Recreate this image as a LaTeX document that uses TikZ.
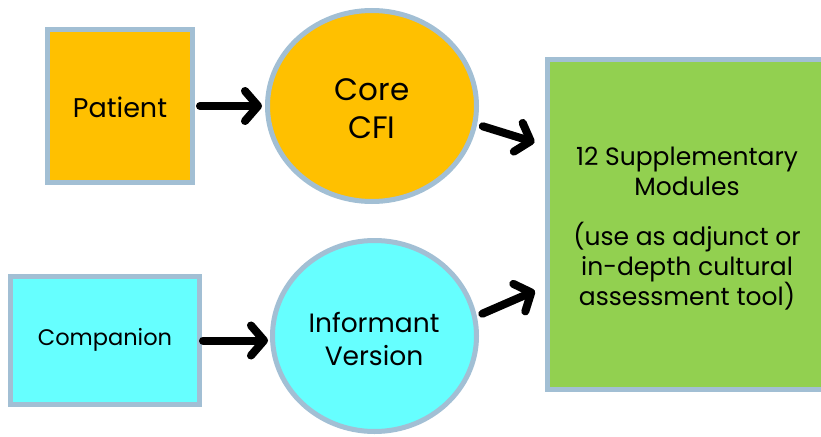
\documentclass[tikz,border=0pt]{standalone}
\usepackage{fontspec}
\setmainfont{Poppins}
\usetikzlibrary{arrows.meta,shapes.geometric,calc}

\definecolor{rim}{HTML}{A2BFD4}
\definecolor{amber}{HTML}{FFC000}
\definecolor{aqua}{HTML}{66FFFF}
\definecolor{leaf}{HTML}{92D050}

\tikzset{
  box/.style={rectangle, draw=rim, line width=5pt, inner sep=0pt, align=center},
  disc/.style={ellipse, draw=rim, line width=5pt, inner sep=0pt, align=center},
  flow/.style={line width=8pt, line cap=round, line join=round,
    -{Straight Barb[length=13pt,width=30pt,round]}},
  flowshade/.style={flow, black, opacity=0.18}
}

\begin{document}
\begin{tikzpicture}[x=1pt,y=-1pt]
\useasboundingbox (0,0) rectangle (821,436);

% input boxes
\node[box, fill=amber, minimum width=145pt, minimum height=153pt] (patient) at (120,106) {};
\node[font=\fontsize{27}{33}\selectfont] (patienttxt) at (120,107) {Patient};
\node[box, fill=aqua, minimum width=189pt, minimum height=128pt] (companion) at (105,340.5) {};
\node[font=\fontsize{22.5}{30}\selectfont] (companiontxt) at (105,340) {Companion};

% interview circles
\node[disc, fill=amber, minimum width=209pt, minimum height=191pt] (core) at (372,106) {};
\node[align=center, font=\fontsize{31}{38}\selectfont] (coretxt) at (372,109) {Core\\CFI};
\node[disc, fill=aqua, minimum width=204pt, minimum height=191pt] (informant) at (374.5,336) {};
\node[align=center, font=\fontsize{26.5}{33}\selectfont] (informanttxt) at (374,339) {Informant\\Version};

% modules box, runs off the right edge
\node[box, fill=leaf, minimum width=276pt, minimum height=330pt] (modules) at (685.5,224.5) {};
\node[align=center, font=\fontsize{25}{30}\selectfont] (modtxt) at (687,229)
  {12 Supplementary\\Modules\\[20pt](use as adjunct or\\in-depth cultural\\assessment tool)};

% arrow ends on the modules box
\coordinate (upin) at (modules.west |- core.-22);
\coordinate (lowin) at ($(modules.west)+(0,62)$);

% arrows, soft shadow first
\foreach \d/\s in {3/flowshade, 0/flow}{
  \begin{scope}[xshift=\d pt, yshift=-\d pt]
  \draw[\s, shorten <=5pt, shorten >=3pt] (patient.east) -- (core.west);
  \draw[\s, shorten <=1pt, shorten >=2pt] (companion.east) -- (companion.east -| informant.west);
  \draw[\s, shorten <=6pt, shorten >=11pt] (core.-10) -- (upin);
  \draw[\s, shorten <=6pt, shorten >=11pt] (informant.11) -- (lowin);
  \end{scope}
}
\end{tikzpicture}
\end{document}
